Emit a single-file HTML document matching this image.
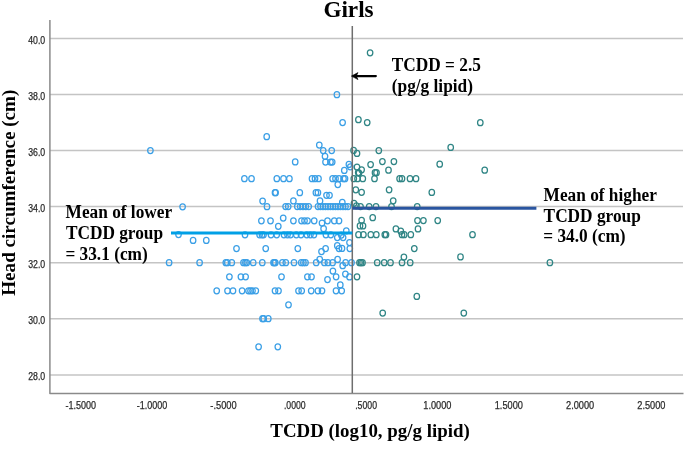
<!DOCTYPE html>
<html><head><meta charset="utf-8"><style>
html,body{margin:0;padding:0;background:#fff;width:685px;height:462px;overflow:hidden}
svg{display:block}
text{filter:grayscale(1)}
.g{stroke:#c4c4c4;stroke-width:1.5}
.tk{font-family:"Liberation Sans",sans-serif;font-size:10.5px;fill:#2a2a2a;stroke:#2a2a2a;stroke-width:0.25px}
.bt{font-family:"Liberation Serif",serif;font-weight:bold;fill:#000}
ellipse{fill:none;stroke-width:1.25}
</style></head><body>
<svg width="685" height="462" viewBox="0 0 685 462">
<rect width="685" height="462" fill="#fff"/>
<line x1="50" y1="374.9" x2="683" y2="374.9" class="g"/><line x1="50" y1="318.8" x2="683" y2="318.8" class="g"/><line x1="50" y1="262.7" x2="683" y2="262.7" class="g"/><line x1="50" y1="206.6" x2="683" y2="206.6" class="g"/><line x1="50" y1="150.6" x2="683" y2="150.6" class="g"/><line x1="50" y1="94.5" x2="683" y2="94.5" class="g"/><line x1="50" y1="38.4" x2="683" y2="38.4" class="g"/>
<path d="M49.9 20 L49.9 393.5 L683.5 393.5" fill="none" stroke="#8a8a8a" stroke-width="1.5" stroke-linejoin="round"/>
<text x="45.2" y="380.4" class="tk" text-anchor="end" textLength="17" lengthAdjust="spacingAndGlyphs">28.0</text><text x="45.2" y="324.3" class="tk" text-anchor="end" textLength="17" lengthAdjust="spacingAndGlyphs">30.0</text><text x="45.2" y="268.2" class="tk" text-anchor="end" textLength="17" lengthAdjust="spacingAndGlyphs">32.0</text><text x="45.2" y="212.1" class="tk" text-anchor="end" textLength="17" lengthAdjust="spacingAndGlyphs">34.0</text><text x="45.2" y="156.1" class="tk" text-anchor="end" textLength="17" lengthAdjust="spacingAndGlyphs">36.0</text><text x="45.2" y="100.0" class="tk" text-anchor="end" textLength="17" lengthAdjust="spacingAndGlyphs">38.0</text><text x="45.2" y="43.9" class="tk" text-anchor="end" textLength="17" lengthAdjust="spacingAndGlyphs">40.0</text>
<text x="80.8" y="409.3" class="tk" text-anchor="middle" textLength="30.6" lengthAdjust="spacingAndGlyphs">-1.5000</text><text x="152.1" y="409.3" class="tk" text-anchor="middle" textLength="30.6" lengthAdjust="spacingAndGlyphs">-1.0000</text><text x="223.5" y="409.3" class="tk" text-anchor="middle" textLength="26.4" lengthAdjust="spacingAndGlyphs">-.5000</text><text x="294.8" y="409.3" class="tk" text-anchor="middle" textLength="21.8" lengthAdjust="spacingAndGlyphs">.0000</text><text x="366.1" y="409.3" class="tk" text-anchor="middle" textLength="21.8" lengthAdjust="spacingAndGlyphs">.5000</text><text x="437.4" y="409.3" class="tk" text-anchor="middle" textLength="28.2" lengthAdjust="spacingAndGlyphs">1.0000</text><text x="508.8" y="409.3" class="tk" text-anchor="middle" textLength="28.2" lengthAdjust="spacingAndGlyphs">1.5000</text><text x="580.1" y="409.3" class="tk" text-anchor="middle" textLength="28.2" lengthAdjust="spacingAndGlyphs">2.0000</text><text x="651.4" y="409.3" class="tk" text-anchor="middle" textLength="28.2" lengthAdjust="spacingAndGlyphs">2.5000</text>
<g><ellipse cx="370.1" cy="52.8" rx="2.75" ry="3.0" stroke="#2f8585"/><ellipse cx="336.9" cy="94.7" rx="2.75" ry="3.0" stroke="#3a9fe6"/><ellipse cx="342.6" cy="122.6" rx="2.75" ry="3.0" stroke="#3a9fe6"/><ellipse cx="358.4" cy="119.7" rx="2.75" ry="3.0" stroke="#2f8585"/><ellipse cx="367.2" cy="122.6" rx="2.75" ry="3.0" stroke="#2f8585"/><ellipse cx="480.3" cy="122.7" rx="2.75" ry="3.0" stroke="#2f8585"/><ellipse cx="266.7" cy="136.7" rx="2.75" ry="3.0" stroke="#3a9fe6"/><ellipse cx="450.7" cy="147.4" rx="2.75" ry="3.0" stroke="#2f8585"/><ellipse cx="150.4" cy="150.6" rx="2.75" ry="3.0" stroke="#3a9fe6"/><ellipse cx="319.3" cy="145.0" rx="2.75" ry="3.0" stroke="#3a9fe6"/><ellipse cx="323.2" cy="150.6" rx="2.75" ry="3.0" stroke="#3a9fe6"/><ellipse cx="331.7" cy="150.6" rx="2.75" ry="3.0" stroke="#3a9fe6"/><ellipse cx="353.6" cy="150.4" rx="2.75" ry="3.0" stroke="#2f8585"/><ellipse cx="357.0" cy="153.4" rx="2.75" ry="3.0" stroke="#2f8585"/><ellipse cx="378.8" cy="150.5" rx="2.75" ry="3.0" stroke="#2f8585"/><ellipse cx="325.0" cy="156.3" rx="2.75" ry="3.0" stroke="#3a9fe6"/><ellipse cx="295.2" cy="161.9" rx="2.75" ry="3.0" stroke="#3a9fe6"/><ellipse cx="325.5" cy="162.0" rx="2.75" ry="3.0" stroke="#3a9fe6"/><ellipse cx="330.5" cy="162.0" rx="2.75" ry="3.0" stroke="#3a9fe6"/><ellipse cx="332.2" cy="162.0" rx="2.75" ry="3.0" stroke="#3a9fe6"/><ellipse cx="348.9" cy="164.4" rx="2.75" ry="3.0" stroke="#3a9fe6"/><ellipse cx="350.3" cy="166.8" rx="2.75" ry="3.0" stroke="#3a9fe6"/><ellipse cx="344.3" cy="170.4" rx="2.75" ry="3.0" stroke="#3a9fe6"/><ellipse cx="382.4" cy="161.6" rx="2.75" ry="3.0" stroke="#2f8585"/><ellipse cx="393.9" cy="161.6" rx="2.75" ry="3.0" stroke="#2f8585"/><ellipse cx="370.6" cy="164.5" rx="2.75" ry="3.0" stroke="#2f8585"/><ellipse cx="439.7" cy="164.2" rx="2.75" ry="3.0" stroke="#2f8585"/><ellipse cx="357.0" cy="167.1" rx="2.75" ry="3.0" stroke="#2f8585"/><ellipse cx="361.6" cy="169.8" rx="2.75" ry="3.0" stroke="#2f8585"/><ellipse cx="358.2" cy="172.5" rx="2.75" ry="3.0" stroke="#2f8585"/><ellipse cx="359.0" cy="173.0" rx="2.75" ry="3.0" stroke="#2f8585"/><ellipse cx="375.0" cy="172.7" rx="2.75" ry="3.0" stroke="#2f8585"/><ellipse cx="376.5" cy="172.7" rx="2.75" ry="3.0" stroke="#2f8585"/><ellipse cx="388.5" cy="170.2" rx="2.75" ry="3.0" stroke="#2f8585"/><ellipse cx="484.7" cy="170.2" rx="2.75" ry="3.0" stroke="#2f8585"/><ellipse cx="244.4" cy="178.7" rx="2.75" ry="3.0" stroke="#3a9fe6"/><ellipse cx="251.5" cy="178.7" rx="2.75" ry="3.0" stroke="#3a9fe6"/><ellipse cx="276.8" cy="178.7" rx="2.75" ry="3.0" stroke="#3a9fe6"/><ellipse cx="283.5" cy="178.7" rx="2.75" ry="3.0" stroke="#3a9fe6"/><ellipse cx="289.4" cy="178.7" rx="2.75" ry="3.0" stroke="#3a9fe6"/><ellipse cx="312.0" cy="178.7" rx="2.75" ry="3.0" stroke="#3a9fe6"/><ellipse cx="315.0" cy="178.7" rx="2.75" ry="3.0" stroke="#3a9fe6"/><ellipse cx="318.5" cy="178.7" rx="2.75" ry="3.0" stroke="#3a9fe6"/><ellipse cx="332.6" cy="178.7" rx="2.75" ry="3.0" stroke="#3a9fe6"/><ellipse cx="335.5" cy="178.7" rx="2.75" ry="3.0" stroke="#3a9fe6"/><ellipse cx="339.0" cy="178.7" rx="2.75" ry="3.0" stroke="#3a9fe6"/><ellipse cx="343.5" cy="178.7" rx="2.75" ry="3.0" stroke="#3a9fe6"/><ellipse cx="345.0" cy="178.7" rx="2.75" ry="3.0" stroke="#3a9fe6"/><ellipse cx="353.8" cy="178.7" rx="2.75" ry="3.0" stroke="#2f8585"/><ellipse cx="357.5" cy="178.7" rx="2.75" ry="3.0" stroke="#2f8585"/><ellipse cx="362.8" cy="178.7" rx="2.75" ry="3.0" stroke="#2f8585"/><ellipse cx="374.5" cy="178.7" rx="2.75" ry="3.0" stroke="#2f8585"/><ellipse cx="399.6" cy="178.7" rx="2.75" ry="3.0" stroke="#2f8585"/><ellipse cx="402.0" cy="178.7" rx="2.75" ry="3.0" stroke="#2f8585"/><ellipse cx="410.0" cy="178.7" rx="2.75" ry="3.0" stroke="#2f8585"/><ellipse cx="416.0" cy="178.7" rx="2.75" ry="3.0" stroke="#2f8585"/><ellipse cx="337.8" cy="184.6" rx="2.75" ry="3.0" stroke="#3a9fe6"/><ellipse cx="275.0" cy="192.7" rx="2.75" ry="3.0" stroke="#3a9fe6"/><ellipse cx="275.6" cy="192.7" rx="2.75" ry="3.0" stroke="#3a9fe6"/><ellipse cx="299.8" cy="192.7" rx="2.75" ry="3.0" stroke="#3a9fe6"/><ellipse cx="315.9" cy="192.7" rx="2.75" ry="3.0" stroke="#3a9fe6"/><ellipse cx="317.9" cy="192.7" rx="2.75" ry="3.0" stroke="#3a9fe6"/><ellipse cx="326.5" cy="195.3" rx="2.75" ry="3.0" stroke="#3a9fe6"/><ellipse cx="329.5" cy="195.3" rx="2.75" ry="3.0" stroke="#3a9fe6"/><ellipse cx="355.8" cy="189.8" rx="2.75" ry="3.0" stroke="#2f8585"/><ellipse cx="361.6" cy="192.3" rx="2.75" ry="3.0" stroke="#2f8585"/><ellipse cx="389.1" cy="189.8" rx="2.75" ry="3.0" stroke="#2f8585"/><ellipse cx="431.8" cy="192.4" rx="2.75" ry="3.0" stroke="#2f8585"/><ellipse cx="262.6" cy="201.0" rx="2.75" ry="3.0" stroke="#3a9fe6"/><ellipse cx="293.4" cy="200.9" rx="2.75" ry="3.0" stroke="#3a9fe6"/><ellipse cx="320.0" cy="200.9" rx="2.75" ry="3.0" stroke="#3a9fe6"/><ellipse cx="342.3" cy="202.3" rx="2.75" ry="3.0" stroke="#3a9fe6"/><ellipse cx="393.2" cy="200.8" rx="2.75" ry="3.0" stroke="#2f8585"/><ellipse cx="182.6" cy="206.8" rx="2.75" ry="3.0" stroke="#3a9fe6"/><ellipse cx="267.0" cy="206.7" rx="2.75" ry="3.0" stroke="#3a9fe6"/><ellipse cx="285.6" cy="206.6" rx="2.75" ry="3.0" stroke="#3a9fe6"/><ellipse cx="288.2" cy="206.6" rx="2.75" ry="3.0" stroke="#3a9fe6"/><ellipse cx="297.3" cy="206.6" rx="2.75" ry="3.0" stroke="#3a9fe6"/><ellipse cx="300.2" cy="206.6" rx="2.75" ry="3.0" stroke="#3a9fe6"/><ellipse cx="303.0" cy="206.6" rx="2.75" ry="3.0" stroke="#3a9fe6"/><ellipse cx="305.8" cy="206.6" rx="2.75" ry="3.0" stroke="#3a9fe6"/><ellipse cx="308.7" cy="206.6" rx="2.75" ry="3.0" stroke="#3a9fe6"/><ellipse cx="318.0" cy="206.6" rx="2.75" ry="3.0" stroke="#3a9fe6"/><ellipse cx="320.5" cy="206.6" rx="2.75" ry="3.0" stroke="#3a9fe6"/><ellipse cx="323.0" cy="206.6" rx="2.75" ry="3.0" stroke="#3a9fe6"/><ellipse cx="325.5" cy="206.6" rx="2.75" ry="3.0" stroke="#3a9fe6"/><ellipse cx="328.0" cy="206.6" rx="2.75" ry="3.0" stroke="#3a9fe6"/><ellipse cx="330.5" cy="206.6" rx="2.75" ry="3.0" stroke="#3a9fe6"/><ellipse cx="333.0" cy="206.6" rx="2.75" ry="3.0" stroke="#3a9fe6"/><ellipse cx="335.5" cy="206.6" rx="2.75" ry="3.0" stroke="#3a9fe6"/><ellipse cx="338.0" cy="206.6" rx="2.75" ry="3.0" stroke="#3a9fe6"/><ellipse cx="340.5" cy="206.6" rx="2.75" ry="3.0" stroke="#3a9fe6"/><ellipse cx="343.0" cy="206.6" rx="2.75" ry="3.0" stroke="#3a9fe6"/><ellipse cx="345.5" cy="206.6" rx="2.75" ry="3.0" stroke="#3a9fe6"/><ellipse cx="348.0" cy="206.6" rx="2.75" ry="3.0" stroke="#3a9fe6"/><ellipse cx="354.0" cy="203.3" rx="2.75" ry="3.0" stroke="#2f8585"/><ellipse cx="356.4" cy="205.8" rx="2.75" ry="3.0" stroke="#2f8585"/><ellipse cx="360.5" cy="206.6" rx="2.75" ry="3.0" stroke="#2f8585"/><ellipse cx="369.2" cy="206.6" rx="2.75" ry="3.0" stroke="#2f8585"/><ellipse cx="376.0" cy="206.6" rx="2.75" ry="3.0" stroke="#2f8585"/><ellipse cx="391.5" cy="206.6" rx="2.75" ry="3.0" stroke="#2f8585"/><ellipse cx="417.2" cy="206.6" rx="2.75" ry="3.0" stroke="#2f8585"/><ellipse cx="283.2" cy="218.0" rx="2.75" ry="3.0" stroke="#3a9fe6"/><ellipse cx="261.4" cy="220.8" rx="2.75" ry="3.0" stroke="#3a9fe6"/><ellipse cx="270.5" cy="220.8" rx="2.75" ry="3.0" stroke="#3a9fe6"/><ellipse cx="293.4" cy="220.8" rx="2.75" ry="3.0" stroke="#3a9fe6"/><ellipse cx="301.5" cy="220.8" rx="2.75" ry="3.0" stroke="#3a9fe6"/><ellipse cx="304.5" cy="220.8" rx="2.75" ry="3.0" stroke="#3a9fe6"/><ellipse cx="307.5" cy="220.8" rx="2.75" ry="3.0" stroke="#3a9fe6"/><ellipse cx="314.2" cy="220.8" rx="2.75" ry="3.0" stroke="#3a9fe6"/><ellipse cx="327.5" cy="220.8" rx="2.75" ry="3.0" stroke="#3a9fe6"/><ellipse cx="334.3" cy="220.8" rx="2.75" ry="3.0" stroke="#3a9fe6"/><ellipse cx="339.0" cy="220.8" rx="2.75" ry="3.0" stroke="#3a9fe6"/><ellipse cx="322.0" cy="223.1" rx="2.75" ry="3.0" stroke="#3a9fe6"/><ellipse cx="323.6" cy="228.7" rx="2.75" ry="3.0" stroke="#3a9fe6"/><ellipse cx="278.3" cy="226.3" rx="2.75" ry="3.0" stroke="#3a9fe6"/><ellipse cx="346.3" cy="230.8" rx="2.75" ry="3.0" stroke="#3a9fe6"/><ellipse cx="372.7" cy="217.7" rx="2.75" ry="3.0" stroke="#2f8585"/><ellipse cx="361.6" cy="220.3" rx="2.75" ry="3.0" stroke="#2f8585"/><ellipse cx="360.0" cy="225.9" rx="2.75" ry="3.0" stroke="#2f8585"/><ellipse cx="363.0" cy="225.9" rx="2.75" ry="3.0" stroke="#2f8585"/><ellipse cx="417.5" cy="220.5" rx="2.75" ry="3.0" stroke="#2f8585"/><ellipse cx="423.4" cy="220.6" rx="2.75" ry="3.0" stroke="#2f8585"/><ellipse cx="437.7" cy="220.6" rx="2.75" ry="3.0" stroke="#2f8585"/><ellipse cx="418.0" cy="228.9" rx="2.75" ry="3.0" stroke="#2f8585"/><ellipse cx="395.9" cy="228.9" rx="2.75" ry="3.0" stroke="#2f8585"/><ellipse cx="400.8" cy="231.2" rx="2.75" ry="3.0" stroke="#2f8585"/><ellipse cx="178.5" cy="234.5" rx="2.75" ry="3.0" stroke="#3a9fe6"/><ellipse cx="245.0" cy="234.8" rx="2.75" ry="3.0" stroke="#3a9fe6"/><ellipse cx="259.6" cy="234.8" rx="2.75" ry="3.0" stroke="#3a9fe6"/><ellipse cx="262.0" cy="234.8" rx="2.75" ry="3.0" stroke="#3a9fe6"/><ellipse cx="263.5" cy="234.8" rx="2.75" ry="3.0" stroke="#3a9fe6"/><ellipse cx="271.0" cy="234.8" rx="2.75" ry="3.0" stroke="#3a9fe6"/><ellipse cx="276.7" cy="234.8" rx="2.75" ry="3.0" stroke="#3a9fe6"/><ellipse cx="284.0" cy="234.8" rx="2.75" ry="3.0" stroke="#3a9fe6"/><ellipse cx="287.5" cy="234.8" rx="2.75" ry="3.0" stroke="#3a9fe6"/><ellipse cx="290.5" cy="234.8" rx="2.75" ry="3.0" stroke="#3a9fe6"/><ellipse cx="296.3" cy="234.8" rx="2.75" ry="3.0" stroke="#3a9fe6"/><ellipse cx="301.0" cy="234.8" rx="2.75" ry="3.0" stroke="#3a9fe6"/><ellipse cx="306.8" cy="234.8" rx="2.75" ry="3.0" stroke="#3a9fe6"/><ellipse cx="310.4" cy="234.8" rx="2.75" ry="3.0" stroke="#3a9fe6"/><ellipse cx="313.9" cy="234.8" rx="2.75" ry="3.0" stroke="#3a9fe6"/><ellipse cx="325.9" cy="234.8" rx="2.75" ry="3.0" stroke="#3a9fe6"/><ellipse cx="330.8" cy="234.8" rx="2.75" ry="3.0" stroke="#3a9fe6"/><ellipse cx="341.3" cy="235.1" rx="2.75" ry="3.0" stroke="#3a9fe6"/><ellipse cx="337.3" cy="237.5" rx="2.75" ry="3.0" stroke="#3a9fe6"/><ellipse cx="343.1" cy="237.6" rx="2.75" ry="3.0" stroke="#3a9fe6"/><ellipse cx="358.5" cy="234.7" rx="2.75" ry="3.0" stroke="#2f8585"/><ellipse cx="363.4" cy="234.7" rx="2.75" ry="3.0" stroke="#2f8585"/><ellipse cx="370.8" cy="234.7" rx="2.75" ry="3.0" stroke="#2f8585"/><ellipse cx="376.3" cy="234.7" rx="2.75" ry="3.0" stroke="#2f8585"/><ellipse cx="384.8" cy="234.7" rx="2.75" ry="3.0" stroke="#2f8585"/><ellipse cx="386.0" cy="234.7" rx="2.75" ry="3.0" stroke="#2f8585"/><ellipse cx="402.0" cy="234.7" rx="2.75" ry="3.0" stroke="#2f8585"/><ellipse cx="404.2" cy="234.7" rx="2.75" ry="3.0" stroke="#2f8585"/><ellipse cx="410.8" cy="234.7" rx="2.75" ry="3.0" stroke="#2f8585"/><ellipse cx="472.5" cy="234.7" rx="2.75" ry="3.0" stroke="#2f8585"/><ellipse cx="193.1" cy="240.4" rx="2.75" ry="3.0" stroke="#3a9fe6"/><ellipse cx="206.3" cy="240.4" rx="2.75" ry="3.0" stroke="#3a9fe6"/><ellipse cx="349.5" cy="242.6" rx="2.75" ry="3.0" stroke="#3a9fe6"/><ellipse cx="236.5" cy="248.6" rx="2.75" ry="3.0" stroke="#3a9fe6"/><ellipse cx="265.7" cy="248.6" rx="2.75" ry="3.0" stroke="#3a9fe6"/><ellipse cx="297.8" cy="248.6" rx="2.75" ry="3.0" stroke="#3a9fe6"/><ellipse cx="325.6" cy="248.6" rx="2.75" ry="3.0" stroke="#3a9fe6"/><ellipse cx="321.5" cy="251.6" rx="2.75" ry="3.0" stroke="#3a9fe6"/><ellipse cx="337.3" cy="245.7" rx="2.75" ry="3.0" stroke="#3a9fe6"/><ellipse cx="339.0" cy="248.6" rx="2.75" ry="3.0" stroke="#3a9fe6"/><ellipse cx="342.0" cy="248.4" rx="2.75" ry="3.0" stroke="#3a9fe6"/><ellipse cx="349.8" cy="248.6" rx="2.75" ry="3.0" stroke="#3a9fe6"/><ellipse cx="414.3" cy="248.6" rx="2.75" ry="3.0" stroke="#2f8585"/><ellipse cx="319.7" cy="259.3" rx="2.75" ry="3.0" stroke="#3a9fe6"/><ellipse cx="337.6" cy="259.4" rx="2.75" ry="3.0" stroke="#3a9fe6"/><ellipse cx="403.9" cy="257.0" rx="2.75" ry="3.0" stroke="#2f8585"/><ellipse cx="460.5" cy="256.9" rx="2.75" ry="3.0" stroke="#2f8585"/><ellipse cx="169.1" cy="262.7" rx="2.75" ry="3.0" stroke="#3a9fe6"/><ellipse cx="199.6" cy="262.7" rx="2.75" ry="3.0" stroke="#3a9fe6"/><ellipse cx="225.8" cy="262.7" rx="2.75" ry="3.0" stroke="#3a9fe6"/><ellipse cx="227.3" cy="262.7" rx="2.75" ry="3.0" stroke="#3a9fe6"/><ellipse cx="231.8" cy="262.7" rx="2.75" ry="3.0" stroke="#3a9fe6"/><ellipse cx="243.5" cy="262.7" rx="2.75" ry="3.0" stroke="#3a9fe6"/><ellipse cx="245.4" cy="262.7" rx="2.75" ry="3.0" stroke="#3a9fe6"/><ellipse cx="246.8" cy="262.7" rx="2.75" ry="3.0" stroke="#3a9fe6"/><ellipse cx="253.2" cy="262.7" rx="2.75" ry="3.0" stroke="#3a9fe6"/><ellipse cx="262.3" cy="262.7" rx="2.75" ry="3.0" stroke="#3a9fe6"/><ellipse cx="273.5" cy="262.7" rx="2.75" ry="3.0" stroke="#3a9fe6"/><ellipse cx="274.4" cy="262.7" rx="2.75" ry="3.0" stroke="#3a9fe6"/><ellipse cx="275.3" cy="262.7" rx="2.75" ry="3.0" stroke="#3a9fe6"/><ellipse cx="282.4" cy="262.7" rx="2.75" ry="3.0" stroke="#3a9fe6"/><ellipse cx="285.8" cy="262.7" rx="2.75" ry="3.0" stroke="#3a9fe6"/><ellipse cx="294.0" cy="262.7" rx="2.75" ry="3.0" stroke="#3a9fe6"/><ellipse cx="301.3" cy="262.7" rx="2.75" ry="3.0" stroke="#3a9fe6"/><ellipse cx="303.4" cy="262.7" rx="2.75" ry="3.0" stroke="#3a9fe6"/><ellipse cx="305.5" cy="262.7" rx="2.75" ry="3.0" stroke="#3a9fe6"/><ellipse cx="316.2" cy="262.7" rx="2.75" ry="3.0" stroke="#3a9fe6"/><ellipse cx="324.4" cy="262.7" rx="2.75" ry="3.0" stroke="#3a9fe6"/><ellipse cx="327.9" cy="262.7" rx="2.75" ry="3.0" stroke="#3a9fe6"/><ellipse cx="332.6" cy="262.7" rx="2.75" ry="3.0" stroke="#3a9fe6"/><ellipse cx="345.6" cy="262.7" rx="2.75" ry="3.0" stroke="#3a9fe6"/><ellipse cx="351.5" cy="262.7" rx="2.75" ry="3.0" stroke="#3a9fe6"/><ellipse cx="342.7" cy="265.7" rx="2.75" ry="3.0" stroke="#3a9fe6"/><ellipse cx="359.5" cy="262.7" rx="2.75" ry="3.0" stroke="#2f8585"/><ellipse cx="361.0" cy="262.7" rx="2.75" ry="3.0" stroke="#2f8585"/><ellipse cx="362.5" cy="262.7" rx="2.75" ry="3.0" stroke="#2f8585"/><ellipse cx="377.2" cy="262.7" rx="2.75" ry="3.0" stroke="#2f8585"/><ellipse cx="384.2" cy="262.7" rx="2.75" ry="3.0" stroke="#2f8585"/><ellipse cx="390.5" cy="262.7" rx="2.75" ry="3.0" stroke="#2f8585"/><ellipse cx="402.0" cy="262.7" rx="2.75" ry="3.0" stroke="#2f8585"/><ellipse cx="410.2" cy="262.7" rx="2.75" ry="3.0" stroke="#2f8585"/><ellipse cx="549.9" cy="262.7" rx="2.75" ry="3.0" stroke="#2f8585"/><ellipse cx="229.4" cy="276.8" rx="2.75" ry="3.0" stroke="#3a9fe6"/><ellipse cx="240.9" cy="276.8" rx="2.75" ry="3.0" stroke="#3a9fe6"/><ellipse cx="245.6" cy="276.8" rx="2.75" ry="3.0" stroke="#3a9fe6"/><ellipse cx="281.5" cy="276.8" rx="2.75" ry="3.0" stroke="#3a9fe6"/><ellipse cx="307.4" cy="276.8" rx="2.75" ry="3.0" stroke="#3a9fe6"/><ellipse cx="311.5" cy="276.8" rx="2.75" ry="3.0" stroke="#3a9fe6"/><ellipse cx="336.1" cy="276.8" rx="2.75" ry="3.0" stroke="#3a9fe6"/><ellipse cx="327.5" cy="279.5" rx="2.75" ry="3.0" stroke="#3a9fe6"/><ellipse cx="332.9" cy="271.1" rx="2.75" ry="3.0" stroke="#3a9fe6"/><ellipse cx="345.4" cy="274.0" rx="2.75" ry="3.0" stroke="#3a9fe6"/><ellipse cx="349.5" cy="276.9" rx="2.75" ry="3.0" stroke="#3a9fe6"/><ellipse cx="357.0" cy="276.8" rx="2.75" ry="3.0" stroke="#2f8585"/><ellipse cx="216.7" cy="290.8" rx="2.75" ry="3.0" stroke="#3a9fe6"/><ellipse cx="227.5" cy="290.8" rx="2.75" ry="3.0" stroke="#3a9fe6"/><ellipse cx="233.0" cy="290.8" rx="2.75" ry="3.0" stroke="#3a9fe6"/><ellipse cx="242.1" cy="290.8" rx="2.75" ry="3.0" stroke="#3a9fe6"/><ellipse cx="248.5" cy="290.8" rx="2.75" ry="3.0" stroke="#3a9fe6"/><ellipse cx="250.5" cy="290.8" rx="2.75" ry="3.0" stroke="#3a9fe6"/><ellipse cx="252.5" cy="290.8" rx="2.75" ry="3.0" stroke="#3a9fe6"/><ellipse cx="255.8" cy="290.8" rx="2.75" ry="3.0" stroke="#3a9fe6"/><ellipse cx="275.0" cy="290.8" rx="2.75" ry="3.0" stroke="#3a9fe6"/><ellipse cx="278.5" cy="290.8" rx="2.75" ry="3.0" stroke="#3a9fe6"/><ellipse cx="298.5" cy="290.8" rx="2.75" ry="3.0" stroke="#3a9fe6"/><ellipse cx="301.7" cy="290.8" rx="2.75" ry="3.0" stroke="#3a9fe6"/><ellipse cx="311.2" cy="290.8" rx="2.75" ry="3.0" stroke="#3a9fe6"/><ellipse cx="317.9" cy="290.8" rx="2.75" ry="3.0" stroke="#3a9fe6"/><ellipse cx="322.0" cy="290.8" rx="2.75" ry="3.0" stroke="#3a9fe6"/><ellipse cx="336.0" cy="290.8" rx="2.75" ry="3.0" stroke="#3a9fe6"/><ellipse cx="341.7" cy="290.8" rx="2.75" ry="3.0" stroke="#3a9fe6"/><ellipse cx="340.3" cy="284.9" rx="2.75" ry="3.0" stroke="#3a9fe6"/><ellipse cx="416.8" cy="296.4" rx="2.75" ry="3.0" stroke="#2f8585"/><ellipse cx="288.5" cy="304.8" rx="2.75" ry="3.0" stroke="#3a9fe6"/><ellipse cx="262.5" cy="318.7" rx="2.75" ry="3.0" stroke="#3a9fe6"/><ellipse cx="263.7" cy="318.7" rx="2.75" ry="3.0" stroke="#3a9fe6"/><ellipse cx="268.3" cy="318.7" rx="2.75" ry="3.0" stroke="#3a9fe6"/><ellipse cx="382.7" cy="313.1" rx="2.75" ry="3.0" stroke="#2f8585"/><ellipse cx="463.8" cy="313.1" rx="2.75" ry="3.0" stroke="#2f8585"/><ellipse cx="258.6" cy="346.8" rx="2.75" ry="3.0" stroke="#3a9fe6"/><ellipse cx="277.8" cy="346.8" rx="2.75" ry="3.0" stroke="#3a9fe6"/></g>
<line x1="352.3" y1="26" x2="352.3" y2="393" stroke="#6e6e6e" stroke-width="1.5"/>
<line x1="171" y1="233.1" x2="352.3" y2="233.1" stroke="#00a0e6" stroke-width="3"/>
<line x1="352.3" y1="208.3" x2="536.4" y2="208.3" stroke="#2a55a0" stroke-width="3"/>
<line x1="355" y1="76.1" x2="375.8" y2="76.1" stroke="#000" stroke-width="2.3" stroke-linecap="round"/>
<path d="M351.4 76.1 L358 72.6 L356.3 76.1 L358 79.6 Z" fill="#000" stroke="#000" stroke-width="0.6" stroke-linejoin="round"/>
<text transform="translate(348.5,16.6) scale(1,1.03)" class="bt" font-size="23.2" text-anchor="middle">Girls</text>
<text transform="translate(391.8,70.7) scale(1,1.05)" class="bt" font-size="17.3">TCDD = 2.5</text>
<text transform="translate(391.8,91.9) scale(1,1.05)" class="bt" font-size="17.3">(pg/g lipid)</text>
<text transform="translate(65.6,218.4) scale(1,1.05)" class="bt" font-size="17.3">Mean of lower</text>
<text transform="translate(65.9,238.7) scale(1,1.05)" class="bt" font-size="17.3">TCDD group</text>
<text transform="translate(65.4,259.5) scale(1,1.05)" class="bt" font-size="17.3">= 33.1 (cm)</text>
<text transform="translate(543.6,201.3) scale(1,1.05)" class="bt" font-size="17.3">Mean of higher</text>
<text transform="translate(543.6,221.7) scale(1,1.05)" class="bt" font-size="17.3">TCDD group</text>
<text transform="translate(543.3,242.1) scale(1,1.05)" class="bt" font-size="17.3">= 34.0 (cm)</text>
<text transform="translate(370,437.1) scale(1,1.02)" class="bt" font-size="18.9" text-anchor="middle">TCDD (log10, pg/g lipid)</text>
<text transform="translate(15,192.7) rotate(-90)" class="bt" font-size="19.1" text-anchor="middle">Head circumference (cm)</text>
</svg>
</body></html>
